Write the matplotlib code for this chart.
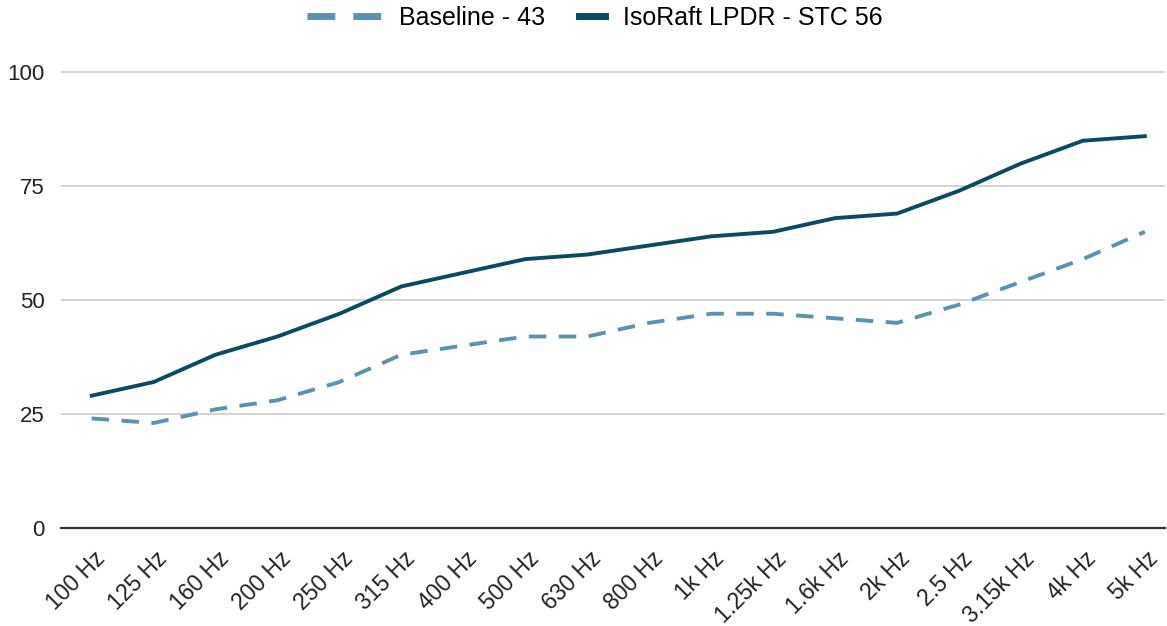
import numpy as np
import matplotlib.pyplot as plt
from matplotlib.lines import Line2D
from matplotlib.legend_handler import HandlerLine2D
from matplotlib.transforms import ScaledTranslation

plt.rcParams['font.family'] = ['Liberation Sans', 'DejaVu Sans']

freqs = ['100 Hz', '125 Hz', '160 Hz', '200 Hz', '250 Hz', '315 Hz', '400 Hz', '500 Hz',
         '630 Hz', '800 Hz', '1k Hz', '1.25k Hz', '1.6k Hz', '2k Hz', '2.5 Hz', '3.15k Hz',
         '4k Hz', '5k Hz']
baseline = [24, 23, 26, 28, 32, 38, 40, 42, 42, 45, 47, 47, 46, 45, 49, 54, 59, 65]
isoraft = [29, 32, 38, 42, 47, 53, 56, 59, 60, 62, 64, 65, 68, 69, 74, 80, 85, 86]

light = '#5a93b1'
dark = '#0b4a63'


# legend handle that reaches further to the left (for the dashed series)
class WideHandler(HandlerLine2D):
    def __init__(self, scale, **kw):
        super().__init__(**kw)
        self.scale = scale

    def create_artists(self, legend, orig_handle, xdescent, ydescent, width, height,
                       fontsize, trans):
        extra = width * (self.scale - 1)
        return super().create_artists(legend, orig_handle, xdescent + extra, ydescent,
                                      width + extra, height, fontsize, trans)


fig = plt.figure(figsize=(11.67, 6.26), dpi=100)
ax = fig.add_axes([0.052, 0.157, 0.946, 0.8])

x = np.arange(len(freqs))
ax.plot(x, baseline, color=light, lw=2.8, dashes=(4.5, 3.2))
ax.plot(x, isoraft, color=dark, lw=2.8)

ax.set_ylim(0, 110)
ax.set_yticks([0, 25, 50, 75, 100])
ax.set_xlim(-0.5, 17.32)
ax.set_xticks(x)
ax.set_xticklabels(freqs, rotation=45, ha='right', va='center', rotation_mode='anchor')
ax.tick_params(axis='both', length=0, labelcolor='#222222')
ax.tick_params(axis='y', labelsize=16, pad=11.5)
ax.tick_params(axis='x', labelsize=16.5, pad=20)
off = ScaledTranslation(0.1, 0, fig.dpi_scale_trans)
for lab in ax.get_xticklabels():
    lab.set_transform(lab.get_transform() + off)
ax.grid(axis='y', color='#cccccc', lw=1.2)
ax.set_axisbelow(True)
for s in ['top', 'right', 'left']:
    ax.spines[s].set_visible(False)
ax.spines['bottom'].set_color('#333333')
ax.spines['bottom'].set_linewidth(1.6)

h1 = Line2D([], [], color=light, lw=5, dashes=(4, 2.6))
h2 = Line2D([], [], color=dark, lw=5)
fig.legend([h1, h2], ['Baseline - 43', 'IsoRaft LPDR - STC 56'],
           handler_map={h1: WideHandler(2.8)},
           loc='center', bbox_to_anchor=(0.53, 0.971), ncol=2, frameon=False,
           fontsize=18, handlelength=1.05, handletextpad=0.72, columnspacing=1.36)

fig.savefig('out.png', dpi=100)
